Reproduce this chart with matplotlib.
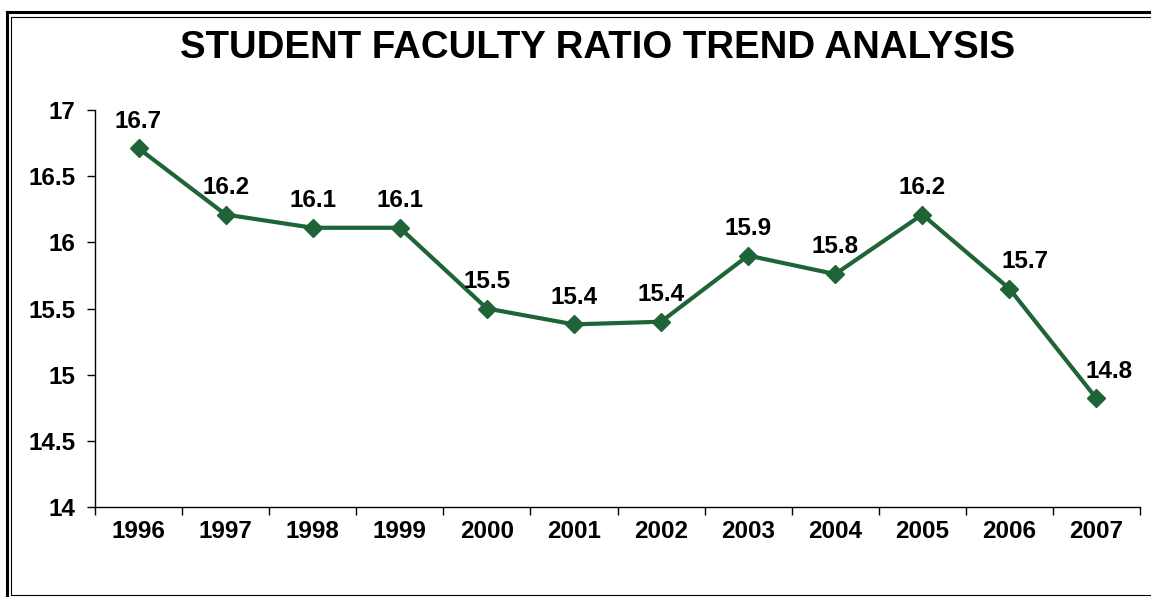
import matplotlib.pyplot as plt
from matplotlib.lines import Line2D

# student/faculty ratio by year
years = ['1996', '1997', '1998', '1999', '2000', '2001',
         '2002', '2003', '2004', '2005', '2006', '2007']
ratios = [16.71, 16.21, 16.11, 16.11, 15.5, 15.38,
          15.4, 15.9, 15.76, 16.21, 15.65, 14.82]
y_ticks = [14, 14.5, 15, 15.5, 16, 16.5, 17]

W, H = 1151, 597
green = '#1f6437'

plt.rcParams['font.family'] = ['Liberation Sans', 'DejaVu Sans']
plt.rcParams['font.weight'] = 'bold'

fig = plt.figure(figsize=(W / 100, H / 100), dpi=100)
ax = fig.add_axes([95 / W, 1 - 507 / H, (1140 - 95) / W, (507 - 110) / H])


# double frame round the chart (runs off the right and bottom edge)
def frame_line(xs, ys, lw):
    fig.add_artist(Line2D([x / W for x in xs], [1 - y / H for y in ys],
                          transform=fig.transFigure, color='black', lw=lw))


frame_line([6.5, 6.5], [11.5, 620], 2.2)
frame_line([6.5, 1200], [11.5, 11.5], 2.2)
frame_line([11, 11], [16.5, 595], 0.8)
frame_line([11, 1200], [16.5, 16.5], 0.8)
frame_line([11, 1200], [595, 595], 0.8)

fig.text(598 / W, 1 - 48 / H, 'STUDENT FACULTY RATIO TREND ANALYSIS',
         ha='center', va='center', fontsize=27.6, fontweight='bold')

x = list(range(len(years)))
ax.plot(x, ratios, color=green, lw=3, marker='D', markersize=9,
        markerfacecolor=green, markeredgecolor=green, zorder=3)

# last two labels sit a little to the right, clear of the falling line
nudge = {10: 11, 11: 9}
for xi, v in zip(x, ratios):
    ax.annotate(f'{v:.1f}', (xi, v), xytext=(nudge.get(xi, 0), 15),
                textcoords='offset points', ha='center', va='baseline',
                fontsize=17.5, fontweight='bold')

ax.set_xlim(-0.5, len(years) - 0.5)
ax.set_ylim(14, 17)
ax.set_yticks(y_ticks)
ax.set_yticklabels([f'{t:g}' for t in y_ticks])

# tick marks between categories, labels centred on them
ax.set_xticks([i - 0.5 for i in range(len(years) + 1)])
ax.set_xticklabels([])
ax.set_xticks(x, minor=True)
ax.set_xticklabels(years, minor=True)
ax.tick_params(axis='x', which='major', length=6, width=1)
ax.tick_params(axis='x', which='minor', length=0, pad=9, labelsize=17.5)
ax.tick_params(axis='y', length=6, width=1, pad=8, labelsize=17.5)

for side in ['top', 'right']:
    ax.spines[side].set_visible(False)
for side in ['left', 'bottom']:
    ax.spines[side].set_linewidth(1)

fig.savefig('out.png', dpi=100)
